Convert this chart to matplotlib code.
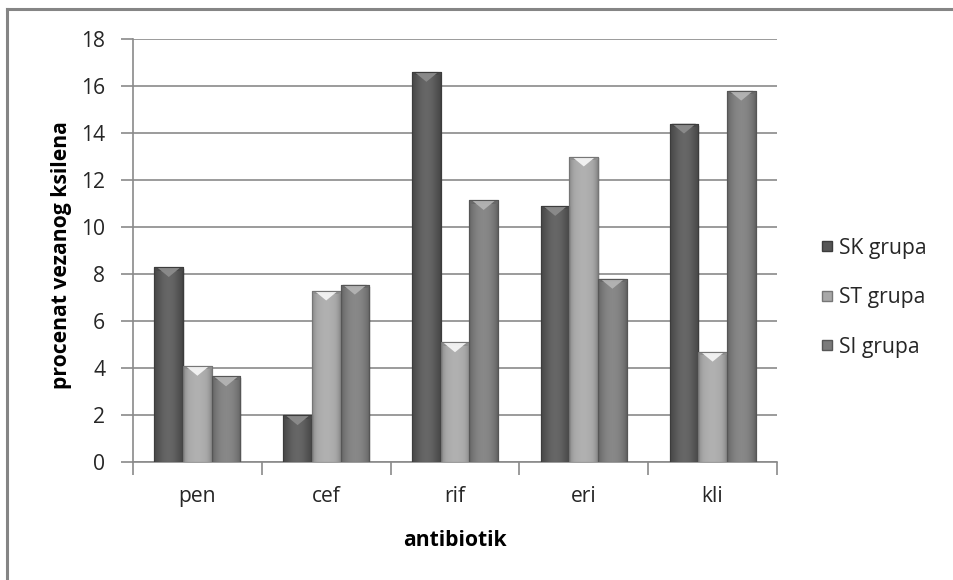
import numpy as np
import matplotlib
matplotlib.use("Agg")
import matplotlib.pyplot as plt
from matplotlib.colors import to_rgb
from matplotlib.lines import Line2D
from matplotlib.patches import Polygon

categories = ["pen", "cef", "rif", "eri", "kli"]
series_names = ["SK grupa", "ST grupa", "SI grupa"]
sk_values = [8.3, 2.0, 16.6, 10.9, 14.4]
st_values = [4.1, 7.3, 5.1, 13.0, 4.7]
si_values = [3.65, 7.55, 11.15, 7.8, 15.8]
y_ticks = [0, 2, 4, 6, 8, 10, 12, 14, 16, 18]
y_label = "procenat vezanog ksilena"
x_label = "antibiotik"

series_values = [sk_values, st_values, si_values]
base_colors = ["#565656", "#a8a8a8", "#7b7b7b"]
bevel_colors = ["#8c8c8c", "#f4f4f4", "#b4b4b4"]

plt.rcParams["font.family"] = ["Open Sans", "DejaVu Sans"]
TEXT = "#262626"
GRID = "#8a8a8a"
FS = 15.2

fig = plt.figure(figsize=(9.54, 5.80), dpi=100)
ax = fig.add_axes([133 / 954, 1 - 462.3 / 580, (777 - 133) / 954, (462.3 - 39) / 580])

n_series = len(series_values)
bar_w = 1 / 4.5
x = np.arange(len(categories))

ax.set_xlim(-0.5, len(categories) - 0.5)
ax.set_ylim(0, 18)


def shade(color, factor):
    r, g, b = to_rgb(color)
    if factor < 1:
        return (r * factor, g * factor, b * factor)
    f = factor - 1
    return (r + (1 - r) * f, g + (1 - g) * f, b + (1 - b) * f)


def gradient_image(color):
    # horizontal profile: darker at both sides, lighter toward the middle
    t = np.linspace(0, 1, 64)
    prof = 0.76 + 0.34 * np.sin(np.pi * t) ** 0.6
    rgb = np.array([shade(color, p) for p in prof])
    return rgb[np.newaxis, :, :]


for k, vals in enumerate(series_values):
    offs = (k - (n_series - 1) / 2) * bar_w
    bars = ax.bar(x + offs, vals, width=bar_w, color=base_colors[k],
                  edgecolor=shade(base_colors[k], 0.7), linewidth=0.8,
                  zorder=3, label=series_names[k])
    img = gradient_image(base_colors[k])
    for rect in bars:
        x0 = rect.get_x()
        w = rect.get_width()
        h = rect.get_height()
        # soft drop shadow
        ax.bar(x0 + w / 2 + 0.012, h, width=w, bottom=-0.08,
               color="#000000", alpha=0.10, linewidth=0, zorder=2.5)
        im = ax.imshow(img, extent=(x0, x0 + w, 0, h), aspect="auto",
                       zorder=3.1, interpolation="bicubic")
        im.set_clip_path(rect)
        # bevelled top: light chevron pointing down
        bev_h = min(0.42, h * 0.5)
        top_band = Polygon([(x0, h), (x0 + w, h), (x0 + w, h - bev_h * 0.35),
                            (x0, h - bev_h * 0.35)], closed=True,
                           facecolor=shade(base_colors[k], 0.85),
                           edgecolor="none", zorder=3.2)
        ax.add_patch(top_band)
        chevron = Polygon([(x0 + w * 0.08, h), (x0 + w * 0.92, h),
                           (x0 + w / 2, h - bev_h)], closed=True,
                          facecolor=bevel_colors[k], edgecolor="none",
                          alpha=0.95, zorder=3.3)
        ax.add_patch(chevron)
        outline = plt.Rectangle((x0, 0), w, h, fill=False,
                                edgecolor=shade(base_colors[k], 0.7),
                                linewidth=0.8, zorder=3.4)
        ax.add_patch(outline)

# gridlines and axes
ax.set_yticks(y_ticks)
ax.yaxis.grid(True, color=GRID, linewidth=1.2, zorder=0)
ax.set_axisbelow(True)
for side in ("top", "right"):
    ax.spines[side].set_visible(False)
for side in ("left", "bottom"):
    ax.spines[side].set_color(GRID)
    ax.spines[side].set_linewidth(1.2)

ax.tick_params(axis="y", length=9, width=1.2, color=GRID, direction="out",
               labelsize=FS, labelcolor=TEXT, pad=11)
ax.set_xticks(np.arange(-0.5, len(categories)), minor=False)
ax.set_xticklabels([])
ax.set_xticks(x, minor=True)
ax.set_xticklabels(categories, minor=True)
ax.tick_params(axis="x", which="major", length=9, width=1.2, color=GRID,
               direction="out")
ax.tick_params(axis="x", which="minor", length=0, labelsize=FS,
               labelcolor=TEXT, pad=17)

fig.text(62 / 954, 1 - 255 / 580, y_label, rotation=90, ha="center",
         va="center", fontsize=FS, fontweight="bold", color="black")
fig.text(455 / 954, 1 - 540 / 580, x_label, ha="center", va="center",
         fontsize=FS, fontweight="bold", color="black")

handles = [Line2D([], [], linestyle="none", marker="s", markersize=7.5,
                  markerfacecolor=c, markeredgecolor=shade(c, 0.7))
           for c in base_colors]
fig.legend(handles, series_names, loc="center left",
           bbox_to_anchor=(801 / 954, 1 - 297.5 / 580), frameon=False,
           fontsize=FS, labelspacing=1.35, handlelength=0.7,
           handletextpad=0.2, labelcolor=TEXT)

# chart border (top and left edges)
fig.add_artist(Line2D([7 / 954, 7 / 954], [0, 1 - 9 / 580],
                      transform=fig.transFigure, color="#858585", linewidth=2.2))
fig.add_artist(Line2D([7 / 954, 1], [1 - 9 / 580, 1 - 9 / 580],
                      transform=fig.transFigure, color="#858585", linewidth=2.2))

fig.savefig("out.png", dpi=100, facecolor="white")
